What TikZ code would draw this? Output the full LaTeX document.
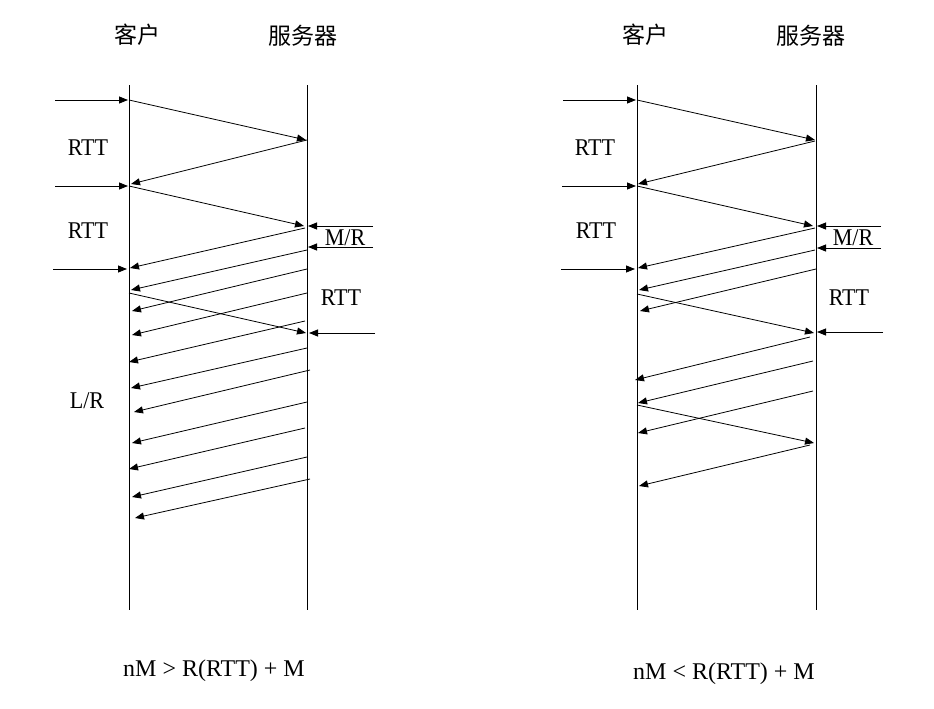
\documentclass[tikz,border=0pt]{standalone}
\usepackage{fontspec}
\setmainfont{Liberation Serif}
\newfontfamily\cjk{Noto Sans CJK SC}
\usetikzlibrary{arrows.meta}
\newcommand{\narrow}[1]{\scalebox{0.92}[1]{#1}}
\begin{document}
\begin{tikzpicture}[x=1pt,y=-1pt,
  msg/.style={-{Triangle[length=9pt,width=7pt]}, line width=0.8pt},
  life/.style={line width=0.9pt},
  lbl/.style={inner sep=0pt, font=\fontsize{24}{28}\selectfont},
  cjklbl/.style={inner sep=0pt, font=\cjk\fontsize{23}{27}\selectfont},
  formula/.style={inner sep=0pt, font=\fontsize{24}{28}\selectfont}]
\useasboundingbox (0,0) rectangle (934,709);
% ---------- left diagram ----------
\coordinate (LcT) at (129,85);  \coordinate (LcB) at (129,610);
\coordinate (LsT) at (307,85);  \coordinate (LsB) at (307,610);
\draw[life] (LcT) -- (LcB);
\draw[life] (LsT) -- (LsB);
\node[cjklbl] (Lclient) at (137,35) {客户};
\node[cjklbl] (Lserver) at (303,36) {服务器};
\node[lbl] (Lrtt1) at (88,148) {\narrow{RTT}};
\node[lbl] (Lrtt2) at (88,231) {\narrow{RTT}};
\node[lbl] (Llr) at (87,401) {\narrow{L/R}};
\node[lbl] (Lmr) at (345,238) {\narrow{M/R}};
\node[lbl] (Lrtt3) at (341,298) {\narrow{RTT}};
\node[formula] (Lform) at (214,671) {nM > R(RTT) + M};
% inputs
\coordinate (Li1s) at (55,100);  \coordinate (Li1e) at (128,100);
\coordinate (Li2s) at (55,186);  \coordinate (Li2e) at (128,186);
\coordinate (Li3s) at (53,269);  \coordinate (Li3e) at (127,269);
\draw[msg] (Li1s) -- (Li1e);
\draw[msg] (Li2s) -- (Li2e);
\draw[msg] (Li3s) -- (Li3e);
% requests
\coordinate (Lr1s) at (129,100); \coordinate (Lr1e) at (306,140);
\coordinate (La1s) at (307,140); \coordinate (La1e) at (131,184);
\coordinate (Lr2s) at (129,186); \coordinate (Lr2e) at (304,226);
\coordinate (Lr3s) at (129,293); \coordinate (Lr3e) at (306,333);
\draw[msg] (Lr1s) -- (Lr1e);
\draw[msg] (La1s) -- (La1e);
\draw[msg] (Lr2s) -- (Lr2e);
\draw[msg] (Lr3s) -- (Lr3e);
% external marks
\coordinate (Le1s) at (373,226); \coordinate (Le1e) at (308,226);
\coordinate (Le2s) at (373,247); \coordinate (Le2e) at (308,247);
\coordinate (Le3s) at (375,333); \coordinate (Le3e) at (309,333);
\draw[msg] (Le1s) -- (Le1e);
\draw[msg] (Le2s) -- (Le2e);
\draw[msg] (Le3s) -- (Le3e);
% data packets back to client
\foreach \i/\xa/\ya/\xb/\yb in {1/305/228/130/268, 2/307/250/131/290, 3/307/269/132/311,
  4/307/293/132/335, 5/305/321/129/362, 6/307/348/131/388, 7/310/370/134/412,
  8/307/402/132/443, 9/305/428/129/469, 10/307/457/132/497, 11/310/479/135/518}{
  \coordinate (Lbs\i) at (\xa,\ya); \coordinate (Lbe\i) at (\xb,\yb);
  \draw[msg] (Lbs\i) -- (Lbe\i);
}
% ---------- right diagram ----------
\coordinate (RcT) at (637,85);  \coordinate (RcB) at (637,610);
\coordinate (RsT) at (816,85);  \coordinate (RsB) at (816,610);
\draw[life] (RcT) -- (RcB);
\draw[life] (RsT) -- (RsB);
\node[cjklbl] (Rclient) at (645,35) {客户};
\node[cjklbl] (Rserver) at (811,36) {服务器};
\node[lbl] (Rrtt1) at (595,148) {\narrow{RTT}};
\node[lbl] (Rrtt2) at (596,231) {\narrow{RTT}};
\node[lbl] (Rmr) at (853,238) {\narrow{M/R}};
\node[lbl] (Rrtt3) at (849,298) {\narrow{RTT}};
\node[formula] (Rform) at (724,674) {nM < R(RTT) + M};
% inputs
\coordinate (Ri1s) at (563,100);  \coordinate (Ri1e) at (636,100);
\coordinate (Ri2s) at (562,186);  \coordinate (Ri2e) at (636,186);
\coordinate (Ri3s) at (561,269);  \coordinate (Ri3e) at (635,269);
\draw[msg] (Ri1s) -- (Ri1e);
\draw[msg] (Ri2s) -- (Ri2e);
\draw[msg] (Ri3s) -- (Ri3e);
% requests
\coordinate (Rr1s) at (637,100); \coordinate (Rr1e) at (815,140);
\coordinate (Ra1s) at (815,141); \coordinate (Ra1e) at (638,184);
\coordinate (Rr2s) at (637,186); \coordinate (Rr2e) at (813,226);
\coordinate (Rr3s) at (637,294); \coordinate (Rr3e) at (814,333);
\coordinate (Rr4s) at (637,405); \coordinate (Rr4e) at (814,443);
\draw[msg] (Rr1s) -- (Rr1e);
\draw[msg] (Ra1s) -- (Ra1e);
\draw[msg] (Rr2s) -- (Rr2e);
\draw[msg] (Rr3s) -- (Rr3e);
\draw[msg] (Rr4s) -- (Rr4e);
% external marks
\coordinate (Re1s) at (881,226); \coordinate (Re1e) at (817,226);
\coordinate (Re2s) at (881,248); \coordinate (Re2e) at (817,248);
\coordinate (Re3s) at (883,332); \coordinate (Re3e) at (817,332);
\draw[msg] (Re1s) -- (Re1e);
\draw[msg] (Re2s) -- (Re2e);
\draw[msg] (Re3s) -- (Re3e);
% data packets back to client
\foreach \i/\xa/\ya/\xb/\yb in {1/815/228/638/268, 2/815/250/639/290, 3/816/269/640/311,
  4/810/337/635/380, 5/813/361/638/403, 6/813/391/638/433, 7/810/445/639/486}{
  \coordinate (Rbs\i) at (\xa,\ya); \coordinate (Rbe\i) at (\xb,\yb);
  \draw[msg] (Rbs\i) -- (Rbe\i);
}
\end{tikzpicture}
\end{document}
